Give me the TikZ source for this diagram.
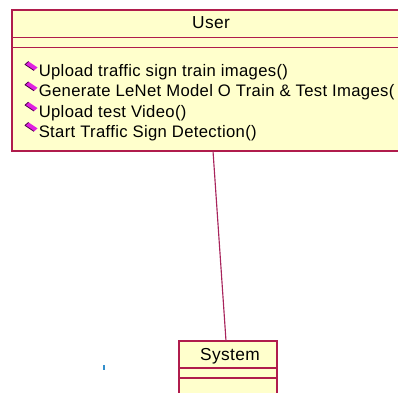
\documentclass[tikz,border=0pt]{standalone}
\usepackage{fontspec}
\setmainfont{Liberation Sans}
\newfontfamily\opfont[LetterSpace=2]{Liberation Sans}
\newfontfamily\headfont[LetterSpace=2]{Liberation Sans}
\definecolor{umlfill}{HTML}{FFFFCC}
\definecolor{umlline}{HTML}{B01C4C}
\definecolor{linkline}{HTML}{A8245C}
\definecolor{opmark}{HTML}{E020E0}
\definecolor{opmarkedge}{HTML}{4A004A}
\begin{document}
\begin{tikzpicture}[x=0.75pt,y=-0.75pt,
  classbox/.style={draw=umlline,fill=umlfill,line width=1.05pt},
  sepline/.style={draw=umlline,line width=1.05pt},
  headtext/.style={font=\headfont\fontsize{13}{15}\selectfont,inner sep=0pt,anchor=base},
  optext/.style={font=\opfont\fontsize{12.5}{15}\selectfont,inner sep=0pt,anchor=base west},
  link/.style={draw=linkline,line width=0.85pt},
  opmarkfill/.style={fill=opmark},
  opmarkline/.style={draw=opmarkedge,line width=0.6pt,line join=round}]
\useasboundingbox (0,0) rectangle (398,392);
\clip (0,0) rectangle (398,392);

% class User
\path[classbox] (12,10) rectangle (410,151);
\path[sepline] (12,37.7) -- (410,37.7);
\path[sepline] (12,47.7) -- (410,47.7);
\node[headtext] (user) at (211,29) {User};

% operations of User, each with its visibility mark
\foreach \i/\t in {0/{Upload traffic sign train images()},
                   1/{Generate LeNet Model O Train \& Test Images(},
                   2/{Upload test Video()},
                   3/{Start Traffic Sign Detection()}} {
  \pgfmathsetmacro{\yb}{76.7+20.3*\i}
  \path[opmarkfill] (25,\yb-12.2) -- (28.5,\yb-15.2) -- (37.5,\yb-9.2) -- (34,\yb-6.2) -- cycle;
  \path[opmarkline] (34,\yb-6.2) -- (25,\yb-12.2) -- (28.5,\yb-15.2);
  \node[optext] (op\i) at (38.5,\yb) {\t};
}

% class System
\path[classbox] (179,341) rectangle (277,400);
\path[sepline] (179,368) -- (277,368);
\path[sepline] (179,378) -- (277,378);
\node[headtext] (system) at (230,360) {System};

% association
\coordinate (userbottom) at (213,151);
\coordinate (systemtop) at (226,341);
\path[link] (userbottom) -- (systemtop);

% stray mark
\draw[color=blue!40!cyan!60!gray,line width=0.8pt] (104,365) -- (104,370);
\end{tikzpicture}
\end{document}
